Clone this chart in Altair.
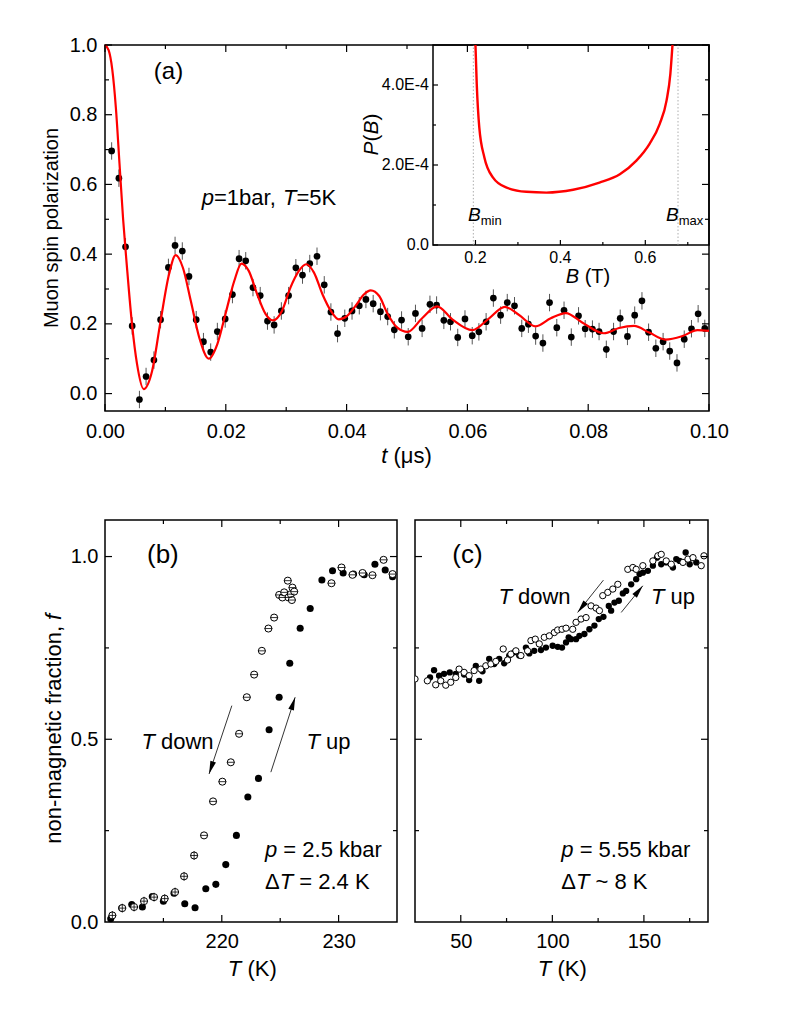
import altair as alt
import pandas as pd

FONT = "Liberation Sans"

# ---------------- Panel (a): muon spin polarization ----------------
t_a = [0.0011, 0.0023, 0.0034, 0.0045, 0.0057, 0.0068, 0.0081, 0.0092, 0.0105, 0.0116,
       0.0128, 0.0139, 0.0151, 0.0163, 0.0175, 0.0186, 0.0199, 0.0211, 0.0222, 0.0233,
       0.0245, 0.0257, 0.0269, 0.0280, 0.0292, 0.0304, 0.0316, 0.0327, 0.0339, 0.0351,
       0.0363, 0.0374, 0.0385, 0.0397, 0.0409, 0.0421, 0.0432, 0.0444, 0.0456, 0.0468,
       0.0479, 0.0491, 0.0502, 0.0514, 0.0525, 0.0538, 0.0549, 0.0561, 0.0572, 0.0584,
       0.0596, 0.0608, 0.0619, 0.0631, 0.0643, 0.0655, 0.0666, 0.0678, 0.0690, 0.0701,
       0.0713, 0.0725, 0.0736, 0.0748, 0.0760, 0.0772, 0.0784, 0.0795, 0.0807, 0.0818,
       0.0830, 0.0842, 0.0853, 0.0865, 0.0877, 0.0889, 0.0900, 0.0912, 0.0924, 0.0935,
       0.0947, 0.0959, 0.0971, 0.0982, 0.0993]
P_a = [0.696, 0.618, 0.421, 0.194, -0.017, 0.049, 0.096, 0.212, 0.362, 0.425,
       0.409, 0.336, 0.212, 0.149, 0.119, 0.178, 0.214, 0.284, 0.387, 0.381,
       0.304, 0.281, 0.208, 0.197, 0.237, 0.281, 0.361, 0.340, 0.373, 0.394,
       0.312, 0.234, 0.172, 0.216, 0.237, 0.252, 0.270, 0.258, 0.235, 0.221,
       0.183, 0.211, 0.163, 0.230, 0.187, 0.256, 0.254, 0.210, 0.206, 0.161,
       0.214, 0.166, 0.177, 0.206, 0.274, 0.225, 0.261, 0.252, 0.187, 0.199,
       0.165, 0.145, 0.261, 0.189, 0.239, 0.162, 0.223, 0.186, 0.185, 0.178,
       0.127, 0.178, 0.216, 0.164, 0.225, 0.266, 0.176, 0.130, 0.149, 0.122,
       0.088, 0.156, 0.186, 0.229, 0.187]
ERR_A = 0.025  # half length of the error bars

fit_t = [0.0, 0.0006, 0.0012, 0.0018, 0.0024, 0.0030, 0.0036, 0.0045, 0.0053, 0.0064,
         0.0078, 0.0092, 0.0106, 0.0117, 0.0129, 0.0142, 0.0156, 0.0172, 0.0186, 0.0200,
         0.0214, 0.0226, 0.0238, 0.0252, 0.0266, 0.0278, 0.0293, 0.0307, 0.0321, 0.0333,
         0.0346, 0.0360, 0.0374, 0.0387, 0.0401, 0.0415, 0.0429, 0.0440, 0.0454, 0.0467,
         0.0484, 0.0501, 0.0525, 0.0550, 0.0575, 0.0608, 0.0636, 0.0662, 0.0685, 0.0713,
         0.0738, 0.0763, 0.0790, 0.0826, 0.0851, 0.0876, 0.0901, 0.0928, 0.0956, 0.0981, 0.1]
fit_P = [1.0, 0.985, 0.93, 0.82, 0.66, 0.50, 0.37, 0.194, 0.085, 0.013,
         0.065, 0.208, 0.342, 0.397, 0.361, 0.266, 0.161, 0.100, 0.142, 0.232,
         0.323, 0.373, 0.352, 0.285, 0.228, 0.210, 0.237, 0.304, 0.352, 0.371,
         0.347, 0.285, 0.237, 0.213, 0.223, 0.252, 0.285, 0.296, 0.280, 0.232,
         0.189, 0.177, 0.216, 0.250, 0.213, 0.182, 0.216, 0.249, 0.226, 0.193,
         0.216, 0.231, 0.204, 0.173, 0.188, 0.194, 0.175, 0.155, 0.165, 0.182, 0.180]

# inset: field distribution P(B)
B_in = [0.200, 0.203, 0.209, 0.221, 0.241, 0.272, 0.320, 0.367, 0.430, 0.492,
        0.540, 0.579, 0.610, 0.634, 0.650, 0.659, 0.664]
PB_in = [5.0e-4, 4.03e-4, 2.94e-4, 2.19e-4, 1.69e-4, 1.44e-4, 1.33e-4, 1.31e-4, 1.38e-4, 1.56e-4,
         1.77e-4, 2.11e-4, 2.53e-4, 3.03e-4, 3.61e-4, 4.28e-4, 5.0e-4]
B_lines = [0.195, 0.677]
inset_B_dom = [0.1, 0.75]
inset_P_dom = [0.0, 5e-4]
inset_y_ticks = [0.0, 2e-4, 4e-4]
inset_y_minor = [1e-4, 3e-4]
inset_y_labels = ["0.0", "2.0E-4", "4.0E-4"]
inset_x_ticks = [0.2, 0.4, 0.6]
inset_x_minor = [0.3, 0.5, 0.7]
inset_x_labels = ["0.2", "0.4", "0.6"]

# ---------------- Panel (b): p = 2.5 kbar ----------------
open_b_T = [210.63, 211.48, 212.49, 213.34, 214.2, 215.11, 216.0, 216.77, 217.63, 218.48,
            219.25, 220.05, 220.77, 221.48, 222.14, 222.77, 223.43, 223.99, 224.48, 224.91,
            225.19, 225.34, 225.65, 225.71, 225.91, 226.05, 226.2, 226.0, 229.39, 230.25,
            231.19, 232.05, 232.9, 233.85, 234.62]
open_b_f = [0.018, 0.038, 0.041, 0.057, 0.068, 0.064, 0.082, 0.125, 0.182, 0.237,
            0.330, 0.384, 0.437, 0.515, 0.615, 0.677, 0.742, 0.803, 0.833, 0.895,
            0.888, 0.902, 0.934, 0.888, 0.897, 0.915, 0.904, 0.881, 0.927, 0.970,
            0.950, 0.955, 0.949, 0.991, 0.952]
open_b_ferr = [0.012, 0.012, 0.012, 0.012, 0.012, 0.012, 0.012, 0.012, 0.012, 0.0,
               0.0, 0.0, 0.0, 0.0, 0.0, 0.0, 0.0, 0.0, 0.0, 0.0,
               0.0, 0.0, 0.0, 0.0, 0.0, 0.0, 0.0, 0.0, 0.0, 0.0,
               0.0, 0.0, 0.0, 0.0, 0.0]
TERR_B = 0.33
fill_b_T = [210.49, 211.43, 212.29, 213.2, 214.05, 215.0, 215.91, 216.83, 217.71, 218.63,
            219.49, 220.34, 221.25, 222.23, 223.14, 224.05, 224.91, 225.82, 226.71, 227.57,
            228.57, 229.48, 230.39, 231.28, 232.19, 233.11, 233.99, 234.62]
fill_b_f = [0.009, 0.038, 0.048, 0.041, 0.070, 0.057, 0.079, 0.050, 0.039, 0.091,
            0.103, 0.157, 0.237, 0.342, 0.393, 0.526, 0.615, 0.708, 0.804, 0.858,
            0.936, 0.961, 0.955, 0.952, 0.950, 0.979, 0.963, 0.945]
arrows_b = {"T1": [220.86, 224.2], "f1": [0.592, 0.41], "T2": [218.91, 226.28],
            "f2": [0.405, 0.615], "ang": [198.4, 18.0]}

# ---------------- Panel (c): p = 5.55 kbar ----------------
open_c_T = [25.0, 31.75, 36.31, 39.05, 41.79, 44.52, 47.26, 49.08, 51.82, 54.56,
            57.29, 60.94, 63.68, 66.42, 69.15, 73.17, 75.54, 77.36, 80.1, 82.84,
            86.48, 88.31, 90.68, 92.87, 95.61, 98.35, 101.08, 102.91, 105.28, 107.47,
            111.12, 112.94, 115.68, 118.42, 121.15, 123.89, 125.71, 127.54, 130.27, 133.01,
            135.75, 141.2, 143.96, 145.78, 149.43, 154.9, 157.64, 159.46, 162.2, 164.93,
            171.32, 174.05, 176.8, 181.3, 182.8]
open_c_f = [0.665, 0.660, 0.649, 0.660, 0.648, 0.656, 0.669, 0.692, 0.683, 0.674,
            0.688, 0.692, 0.701, 0.706, 0.713, 0.747, 0.717, 0.733, 0.742, 0.729,
            0.742, 0.770, 0.774, 0.761, 0.779, 0.783, 0.792, 0.799, 0.801, 0.804,
            0.801, 0.820, 0.829, 0.833, 0.865, 0.859, 0.852, 0.893, 0.902, 0.911,
            0.924, 0.965, 0.970, 0.965, 0.975, 0.988, 1.002, 1.006, 0.988, 0.979,
            0.984, 0.993, 0.997, 0.975, 1.002]
fill_c_T = [33.21, 35.4, 38.14, 40.87, 43.97, 47.26, 51.82, 54.56, 58.21, 60.03,
            61.85, 65.5, 68.24, 70.98, 73.71, 76.45, 79.19, 81.92, 85.57, 87.4,
            90.13, 93.78, 96.52, 100.17, 102.91, 105.28, 107.47, 108.93, 110.2, 112.94,
            114.77, 117.5, 120.24, 122.98, 125.35, 127.9, 130.82, 132.1, 133.92, 136.3,
            138.5, 140.3, 143.05, 145.78, 147.6, 149.43, 152.17, 154.9, 157.1, 159.46,
            162.2, 165.85, 167.68, 169.5, 172.8, 175.0, 178.6]
fill_c_f = [0.669, 0.689, 0.674, 0.679, 0.683, 0.679, 0.677, 0.662, 0.701, 0.660,
            0.686, 0.720, 0.706, 0.720, 0.708, 0.729, 0.738, 0.729, 0.751, 0.735,
            0.742, 0.744, 0.751, 0.756, 0.753, 0.751, 0.765, 0.779, 0.774, 0.774,
            0.783, 0.788, 0.801, 0.811, 0.829, 0.835, 0.865, 0.852, 0.874, 0.879,
            0.899, 0.906, 0.924, 0.938, 0.952, 0.956, 0.961, 0.975, 0.997, 0.979,
            0.984, 0.970, 0.993, 0.988, 1.011, 0.979, 0.984]
arrows_c = {"T1": [127.9, 137.6], "f1": [0.9355, 0.847], "T2": [113.8, 149.4],
            "f2": [0.847, 0.92], "ang": [218.4, 39.0]}

# ---------------- layout constants ----------------
W_A, H_A = 604, 366
IN_X0, IN_H = 328, 200
W_B, W_C, H_BC = 292, 293, 402
MAJ, MIN = 7, 4

CW = {' ': 278, '(': 333, ')': 333, ',': 278, '.': 278, '=': 584, '~': 584, '-': 333,
      'a': 556, 'b': 556, 'c': 500, 'd': 556, 'e': 556, 'f': 278, 'g': 556, 'h': 556,
      'i': 222, 'k': 500, 'l': 222, 'm': 833, 'n': 556, 'o': 556, 'p': 556, 'r': 333,
      's': 500, 't': 278, 'u': 556, 'w': 722, 'x': 500, 'z': 500, 'A': 667, 'B': 667,
      'E': 667, 'K': 667, 'M': 833, 'P': 667, 'T': 611, 'μ': 576, 'Δ': 668}
for _d in "0123456789":
    CW[_d] = 556

ONE = pd.DataFrame({"k": [0]})


def tw(s, size):
    return sum(CW.get(c, 556) for c in s) * size / 1000.0


def rich(runs, x, y, size, align="left", angle=0):
    """Lay out runs of regular / italic text one after another."""
    items = []
    for r in runs:
        items.append((r[0], r[1], r[2] if len(r) > 2 else size, r[3] if len(r) > 3 else 0))
    total = sum(tw(t, s) for t, _, s, _ in items)
    pos = -total * {"left": 0.0, "center": 0.5, "right": 1.0}[align]
    out = []
    for t, ital, s, dy in items:
        lead = len(t) - len(t.lstrip(" "))
        start = pos + tw(" " * lead, s)
        if angle == 0:
            px, py = x + start, y + dy
        else:
            px, py = x + dy, y - start
        out.append(alt.Chart(ONE).mark_text(
            text=t.strip(" "), font=FONT, fontSize=s,
            fontStyle="italic" if ital else "normal",
            align="left", baseline="alphabetic", angle=angle, color="black"
        ).encode(x=alt.value(px), y=alt.value(py)))
        pos += tw(t, s)
    return out


def num_axis(values, fmt, pad):
    return alt.Axis(values=values, format=fmt, ticks=False, domain=False, grid=False,
                    labelFont=FONT, labelFontSize=20, labelColor="black", labelPadding=pad,
                    labelFlush=False, labelOverlap=False, title=None)


def ticks(vals, scale, axis, side, length, W, H, x0=0, y0=None, sw=1.2):
    df = pd.DataFrame({"v": vals})
    base = alt.Chart(df).mark_rule(color="black", strokeWidth=sw)
    yb = H if y0 is None else y0
    if side == "bottom":
        return base.encode(x=alt.X("v:Q", scale=scale, axis=axis), y=alt.value(yb), y2=alt.value(yb - length))
    if side == "top":
        return base.encode(x=alt.X("v:Q", scale=scale, axis=axis), y=alt.value(0), y2=alt.value(length))
    if side == "left":
        return base.encode(y=alt.Y("v:Q", scale=scale, axis=axis), x=alt.value(x0), x2=alt.value(x0 + length))
    return base.encode(y=alt.Y("v:Q", scale=scale, axis=axis), x=alt.value(W), x2=alt.value(W - length))


def frame_ticks(xs, ys, ax, ay, xmaj, xmin, ymaj, ymin, W, H):
    out = []
    for side in ("bottom", "top"):
        out.append(ticks(xmaj, xs, ax, side, MAJ, W, H))
        out.append(ticks(xmin, xs, ax, side, MIN, W, H))
    for side in ("left", "right"):
        out.append(ticks(ymaj, ys, ay, side, MAJ, W, H))
        out.append(ticks(ymin, ys, ay, side, MIN, W, H))
    return out


# ================= Panel (a) =================
XA = alt.Scale(domain=[0, 0.1], nice=False, zero=False)
YA = alt.Scale(domain=[-0.05, 1.0], nice=False, zero=False)
AXA = num_axis([0, 0.02, 0.04, 0.06, 0.08, 0.1], ".2f", 10)
AYA = num_axis([0, 0.2, 0.4, 0.6, 0.8, 1.0], ".1f", 8)
df_a = pd.DataFrame({"t": t_a, "P": P_a})

err_a = alt.Chart(df_a).transform_calculate(
    lo=f"datum.P - {ERR_A}", hi=f"datum.P + {ERR_A}"
).mark_rule(color="#555555", strokeWidth=1).encode(
    x=alt.X("t:Q", scale=XA, axis=AXA), y=alt.Y("lo:Q", scale=YA, axis=AYA), y2="hi:Q")
pts_a = alt.Chart(df_a).mark_circle(color="black", size=45, opacity=1).encode(
    x=alt.X("t:Q", scale=XA, axis=AXA), y=alt.Y("P:Q", scale=YA, axis=AYA))
fit_a = alt.Chart(pd.DataFrame({"t": fit_t, "P": fit_P})).mark_line(
    color="#ff0000", strokeWidth=2.2, interpolate="monotone").encode(
    x=alt.X("t:Q", scale=XA, axis=AXA), y=alt.Y("P:Q", scale=YA, axis=AYA))

main_layers = [err_a, pts_a, fit_a]
main_layers += frame_ticks(XA, YA, AXA, AYA, [0, 0.02, 0.04, 0.06, 0.08, 0.1],
                           [0.01, 0.03, 0.05, 0.07, 0.09],
                           [0, 0.2, 0.4, 0.6, 0.8, 1.0], [0.1, 0.3, 0.5, 0.7, 0.9], W_A, H_A)
main_layers += rich([("(a)", False)], 63.5, 34.3, 24, align="center")
main_layers += rich([("p", True), ("=1bar, ", False), ("T", True), ("=5K", False)], 164, 160, 22, align="center")
main_layers += rich([("Muon spin polarization", False)], -47, 183, 20, align="center", angle=270)
main_layers += rich([("t", True), (" (μs)", False)], 301.5, 418, 22, align="center")

XI = alt.Scale(domain=inset_B_dom, range=[IN_X0, W_A], nice=False, zero=False)
YI = alt.Scale(domain=inset_P_dom, range=[IN_H, 0], nice=False, zero=False)

inset_frame = alt.Chart(pd.DataFrame({"b1": [inset_B_dom[0]], "b2": [inset_B_dom[1]],
                                      "p1": [inset_P_dom[0]], "p2": [inset_P_dom[1]]})).mark_rect(
    fillOpacity=0, stroke="black", strokeWidth=1.5).encode(
    x=alt.X("b1:Q", scale=XI, axis=None), x2="b2:Q",
    y=alt.Y("p1:Q", scale=YI, axis=None), y2="p2:Q")
inset_lines = alt.Chart(pd.DataFrame({"B": B_lines, "p1": [inset_P_dom[0]] * 2, "p2": [inset_P_dom[1]] * 2})).mark_rule(
    color="#999999", strokeWidth=0.8, strokeDash=[1.5, 2]).encode(
    x=alt.X("B:Q", scale=XI, axis=None), y=alt.Y("p1:Q", scale=YI, axis=None), y2="p2:Q")
inset_curve = alt.Chart(pd.DataFrame({"B": B_in, "PB": PB_in})).mark_line(
    color="#ff0000", strokeWidth=2.4, interpolate="monotone").encode(
    x=alt.X("B:Q", scale=XI, axis=None), y=alt.Y("PB:Q", scale=YI, axis=None))
inset_ylab = alt.Chart(pd.DataFrame({"v": inset_y_ticks, "lab": inset_y_labels})).mark_text(
    align="right", baseline="middle", font=FONT, fontSize=16, color="black").encode(
    y=alt.Y("v:Q", scale=YI, axis=None), x=alt.value(IN_X0 - 4), text="lab:N")
inset_xlab = alt.Chart(pd.DataFrame({"v": inset_x_ticks, "lab": inset_x_labels})).mark_text(
    align="center", baseline="top", font=FONT, fontSize=16, color="black").encode(
    x=alt.X("v:Q", scale=XI, axis=None), y=alt.value(IN_H + 5), text="lab:N")

inset_layers = [inset_frame, inset_lines, inset_curve, inset_ylab, inset_xlab,
                ticks(inset_y_ticks, YI, None, "left", 5, W_A, H_A, x0=IN_X0),
                ticks(inset_y_minor, YI, None, "left", 3, W_A, H_A, x0=IN_X0),
                ticks(inset_x_ticks, XI, None, "bottom", 5, W_A, H_A, y0=IN_H),
                ticks(inset_x_minor, XI, None, "bottom", 3, W_A, H_A, y0=IN_H)]
inset_layers += rich([("P", True), ("(", False), ("B", True), (")", False)], 273, 89.5, 21, align="center", angle=270)
inset_layers += rich([("B", True), (" (T)", False)], 483, 237.7, 20, align="center")
inset_layers += rich([("B", True, 19), ("min", False, 13, 4)], 363, 176, 19)
inset_layers += rich([("B", True, 19), ("max", False, 13, 4)], 561, 176, 19)

panel_a = alt.layer(alt.layer(*main_layers), alt.layer(*inset_layers)).resolve_scale(
    x="independent", y="independent").properties(width=W_A, height=H_A)


# ================= Panels (b) and (c) =================
YBC = alt.Scale(domain=[0, 1.1], nice=False, zero=False)


def arrow_layers(arr, xs, ax, ay):
    df = pd.DataFrame(arr)
    line = alt.Chart(df).mark_rule(color="black", strokeWidth=0.8).encode(
        x=alt.X("T1:Q", scale=xs, axis=ax), y=alt.Y("f1:Q", scale=YBC, axis=ay),
        x2="T2:Q", y2="f2:Q")
    head = alt.Chart(df).mark_point(shape="M0,0L0.45,2L-0.45,2Z", filled=True, color="black",
                                    size=169, opacity=1).encode(
        x=alt.X("T2:Q", scale=xs, axis=ax), y=alt.Y("f2:Q", scale=YBC, axis=ay),
        angle=alt.Angle("ang:Q", scale=None))
    return [line, head]


# ---- (b)
XB = alt.Scale(domain=[210, 235], nice=False, zero=False)
AXB = num_axis([220, 230], "d", 9)
AYB = num_axis([0, 0.5, 1.0], ".1f", 7)
df_bo = pd.DataFrame({"T": open_b_T, "f": open_b_f, "fe": open_b_ferr})
fill_b = alt.Chart(pd.DataFrame({"T": fill_b_T, "f": fill_b_f})).mark_circle(
    color="black", size=50, opacity=1).encode(
    x=alt.X("T:Q", scale=XB, axis=AXB), y=alt.Y("f:Q", scale=YBC, axis=AYB))
open_b = alt.Chart(df_bo).mark_point(shape="circle", fill="white", stroke="black",
                                     strokeWidth=1, size=50, opacity=1, fillOpacity=1).encode(
    x=alt.X("T:Q", scale=XB, axis=AXB), y=alt.Y("f:Q", scale=YBC, axis=AYB))
open_b_h = alt.Chart(df_bo).transform_calculate(
    lo=f"datum.T - {TERR_B}", hi=f"datum.T + {TERR_B}").mark_rule(
    color="black", strokeWidth=0.8).encode(
    x=alt.X("lo:Q", scale=XB, axis=AXB), x2="hi:Q", y=alt.Y("f:Q", scale=YBC, axis=AYB))
open_b_v = alt.Chart(df_bo).transform_filter("datum.fe > 0").transform_calculate(
    lo="datum.f - datum.fe", hi="datum.f + datum.fe").mark_rule(
    color="black", strokeWidth=0.8).encode(
    x=alt.X("T:Q", scale=XB, axis=AXB), y=alt.Y("lo:Q", scale=YBC, axis=AYB), y2="hi:Q")

b_layers = [fill_b, open_b, open_b_h, open_b_v]
b_layers += frame_ticks(XB, YBC, AXB, AYB, [220, 230], [215, 225], [0.5, 1.0], [0.25, 0.75], W_B, H_BC)
b_layers += arrow_layers(arrows_b, XB, AXB, AYB)
b_layers += rich([("(b)", False)], 42, 43.2, 26)
b_layers += rich([("T", True), (" down", False)], 72.5, 229, 22, align="center")
b_layers += rich([("T", True), (" up", False)], 223.5, 229, 22, align="center")
b_layers += rich([("p", True), (" = 2.5 kbar", False)], 160, 337.4, 22)
b_layers += rich([("Δ", False), ("T", True), (" = 2.4 K", False)], 160, 369, 22)
b_layers += rich([("T", True), (" (K)", False)], 147.3, 456.4, 22, align="center")
b_layers += rich([("non-magnetic fraction, ", False), ("f", True)], -44, 208.7, 22, align="center", angle=270)
panel_b = alt.layer(*b_layers).properties(width=W_B, height=H_BC)

# ---- (c)
XC = alt.Scale(domain=[25, 185], nice=False, zero=False)
AXC = num_axis([50, 100, 150], "d", 9)
fill_c = alt.Chart(pd.DataFrame({"T": fill_c_T, "f": fill_c_f})).mark_circle(
    color="black", size=40, opacity=1, clip=True).encode(
    x=alt.X("T:Q", scale=XC, axis=AXC), y=alt.Y("f:Q", scale=YBC, axis=None))
open_c = alt.Chart(pd.DataFrame({"T": open_c_T, "f": open_c_f})).mark_point(
    shape="circle", fill="white", stroke="black", strokeWidth=1, size=40, opacity=1,
    fillOpacity=1, clip=True).encode(
    x=alt.X("T:Q", scale=XC, axis=AXC), y=alt.Y("f:Q", scale=YBC, axis=None))
c_layers = [fill_c, open_c]
c_layers += frame_ticks(XC, YBC, AXC, None, [50, 100, 150], [75, 125, 175], [0.5, 1.0], [0.25, 0.75], W_C, H_BC)
c_layers += arrow_layers(arrows_c, XC, AXC, None)
c_layers += rich([("(c)", False)], 37.3, 43.2, 26)
c_layers += rich([("T", True), (" down", False)], 119.5, 84, 22, align="center")
c_layers += rich([("T", True), (" up", False)], 258, 84, 22, align="center")
c_layers += rich([("p", True), (" = 5.55 kbar", False)], 146.3, 337.4, 22)
c_layers += rich([("Δ", False), ("T", True), (" ~ 8 K", False)], 146.3, 369, 22)
c_layers += rich([("T", True), (" (K)", False)], 147.3, 456.4, 22, align="center")
panel_c = alt.layer(*c_layers).properties(width=W_C, height=H_BC)

bottom = alt.hconcat(panel_b, panel_c, spacing=18, bounds="flush")
chart = alt.vconcat(panel_a, bottom, spacing=109, bounds="flush").properties(
    padding={"left": 33, "top": 26, "right": 5, "bottom": 5}, background="white"
).configure_view(stroke="black", strokeWidth=1.5)

chart.save("out.html", embed_options={"renderer": "svg", "actions": False})
